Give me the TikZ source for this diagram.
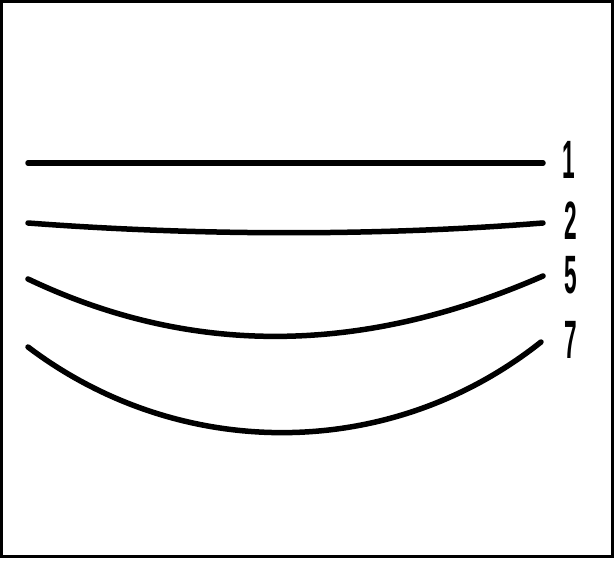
\documentclass[tikz,border=0pt]{standalone}
\usepackage{fontspec}
\setmainfont{Liberation Sans}
\begin{document}
\begin{tikzpicture}[x=1pt,y=-1pt,
  curve/.style={line width=5.5pt,line cap=round},
  numlabel/.style={inner sep=0pt,font=\fontsize{54}{54}\selectfont\bfseries}]
\useasboundingbox (0,0) rectangle (614,569);
\draw[line width=3pt] (1.5,1.5) rectangle (612.5,556.5);
% line 1
\draw[curve] (28,163) -- (543,163);
% line 2
\draw[curve] (28,223) .. controls (200,236) and (380,236) .. (543,223);
% line 5
\draw[curve] (28,279) .. controls (190,356) and (360,356) .. (543,276);
% line 7
\draw[curve] (28,347) .. controls (180,462) and (390,462) .. (541,342);
\node[numlabel] (l1) at (569,160) {\scalebox{0.42}[1]{1}};
\node[numlabel] (l2) at (571,221) {\scalebox{0.42}[1]{2}};
\node[numlabel] (l5) at (571,275) {\scalebox{0.42}[1]{5}};
\node[numlabel] (l7) at (571,340) {\scalebox{0.42}[1]{7}};
\end{tikzpicture}
\end{document}
